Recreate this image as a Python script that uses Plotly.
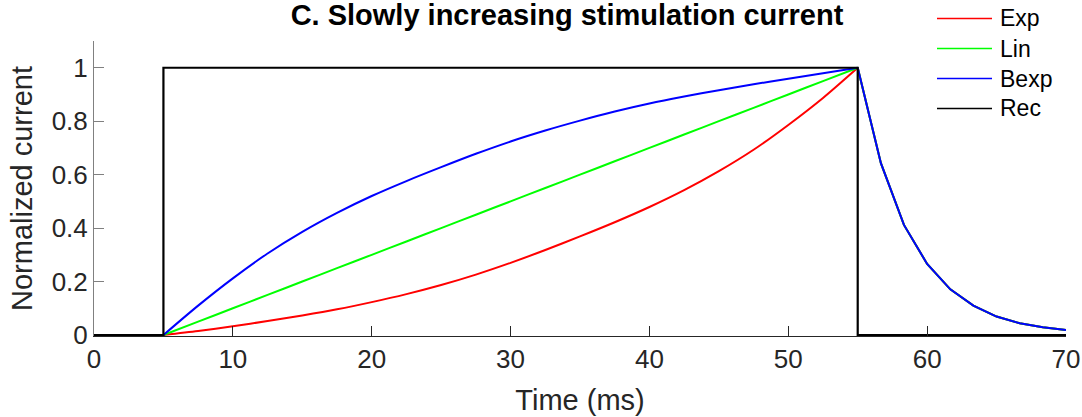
import plotly.graph_objects as go

# ---- data ----
t_rise = [5, 7.5, 10, 12.5, 15, 17.5, 20, 22.5, 25, 27.5, 30, 32.5, 35,
          37.5, 40, 42.5, 45, 47.5, 50, 52.5, 55]
t_decay = [55, 56.67, 58.33, 60, 61.67, 63.33, 65, 66.67, 68.33, 70]
decay_vals = [1.0, 0.643, 0.412, 0.266, 0.171, 0.110, 0.069, 0.044, 0.029, 0.019]
t_base = [0, 5]
base_vals = [0, 0]

exp_rise = [0, 0.015, 0.033, 0.052, 0.073, 0.096, 0.123, 0.153, 0.187, 0.226,
            0.270, 0.318, 0.369, 0.422, 0.479, 0.542, 0.613, 0.693, 0.786, 0.887, 1.0]
lin_rise = [0, 0.05, 0.10, 0.15, 0.20, 0.25, 0.30, 0.35, 0.40, 0.45,
            0.50, 0.55, 0.60, 0.65, 0.70, 0.75, 0.80, 0.85, 0.90, 0.95, 1.0]
bexp_rise = [0, 0.110, 0.212, 0.305, 0.386, 0.457, 0.520, 0.576, 0.628, 0.678,
             0.724, 0.765, 0.802, 0.836, 0.866, 0.892, 0.916, 0.938, 0.959, 0.979, 1.0]

rec_t = [0, 5, 5, 55, 55, 70]
rec_v = [0, 0, 1, 1, 0, 0]

names = ["Exp", "Lin", "Bexp", "Rec"]
colors = ["#ff0000", "#00ff00", "#0000ff", "#000000"]

x_ticks = [0, 10, 20, 30, 40, 50, 60, 70]
y_ticks = [0, 0.2, 0.4, 0.6, 0.8, 1]
y_ticklabels = ["0", "0.2", "0.4", "0.6", "0.8", "1"]

title = "C. Slowly increasing stimulation current"
x_title = "Time (ms)"
y_title = "Normalized current"

FONT = "Liberation Sans, Arial, Helvetica, sans-serif"

fig = go.Figure()
series = [exp_rise, lin_rise, bexp_rise]
for name, col, vals in zip(names[:3], colors[:3], series):
    # baseline before onset
    fig.add_trace(go.Scatter(x=t_base, y=base_vals, mode="lines", name=name,
                             line=dict(color=col, width=2), showlegend=False,
                             hoverinfo="skip"))
    # smooth rise
    fig.add_trace(go.Scatter(x=t_rise, y=vals, mode="lines", name=name,
                             line=dict(color=col, width=2, shape="spline", smoothing=0.8),
                             showlegend=False, hoverinfo="skip"))
    # decay after offset (shared by all ramps)
    fig.add_trace(go.Scatter(x=t_decay, y=decay_vals, mode="lines", name=name,
                             line=dict(color=col, width=2), showlegend=False,
                             hoverinfo="skip"))
fig.add_trace(go.Scatter(x=rec_t, y=rec_v, mode="lines", name=names[3],
                         line=dict(color=colors[3], width=2.2),
                         showlegend=False, hoverinfo="skip"))

W, H = 1082, 417
L, R, T, B = 94, 16, 41, 81
# manual legend (MATLAB style, long line samples)
leg_x0, leg_x1, leg_tx = 937, 992, 998
leg_rows = [18.5, 48.5, 78.5, 108.5]
for name, col, yy in zip(names, colors, leg_rows):
    yp = (H - B - yy) / (H - T - B)
    fig.add_shape(type="line", xref="paper", yref="paper",
                  x0=(leg_x0 - L) / (W - L - R), x1=(leg_x1 - L) / (W - L - R),
                  y0=yp, y1=yp, line=dict(color=col, width=1.6))
    fig.add_annotation(text=name, xref="paper", yref="paper",
                       x=(leg_tx - L) / (W - L - R), y=yp,
                       xanchor="left", yanchor="middle", showarrow=False,
                       font=dict(family=FONT, size=23, color="#000000"))

fig.update_layout(
    width=W, height=H,
    margin=dict(l=L, r=R, t=T, b=B, autoexpand=False),
    paper_bgcolor="white", plot_bgcolor="white",
    font=dict(family=FONT, color="#262626"),
    title=dict(text="<b>" + title + "</b>", x=567 / W, xanchor="center",
               y=1 - 15 / H, yanchor="middle", yref="container",
               font=dict(family=FONT, size=29, color="#000000")),
    xaxis=dict(range=[0, 70], tickvals=x_ticks, ticks="inside", ticklen=10,
               tickcolor="#262626", showline=True, linecolor="#262626", linewidth=1,
               showgrid=False, zeroline=False, automargin=False,
               tickfont=dict(size=26, color="#262626"),
               title=dict(text=x_title, font=dict(size=29, color="#262626"), standoff=16)),
    yaxis=dict(range=[-0.0037, 1.1], tickvals=y_ticks, ticktext=y_ticklabels,
               ticks="inside", ticklen=10, tickcolor="#808080", showline=True,
               linecolor="#808080", linewidth=1, showgrid=False, zeroline=False,
               automargin=False, tickfont=dict(size=26, color="#262626"),
               title=dict(text=y_title, font=dict(size=29, color="#262626"), standoff=10)),
)

fig.write_html("out.html")
